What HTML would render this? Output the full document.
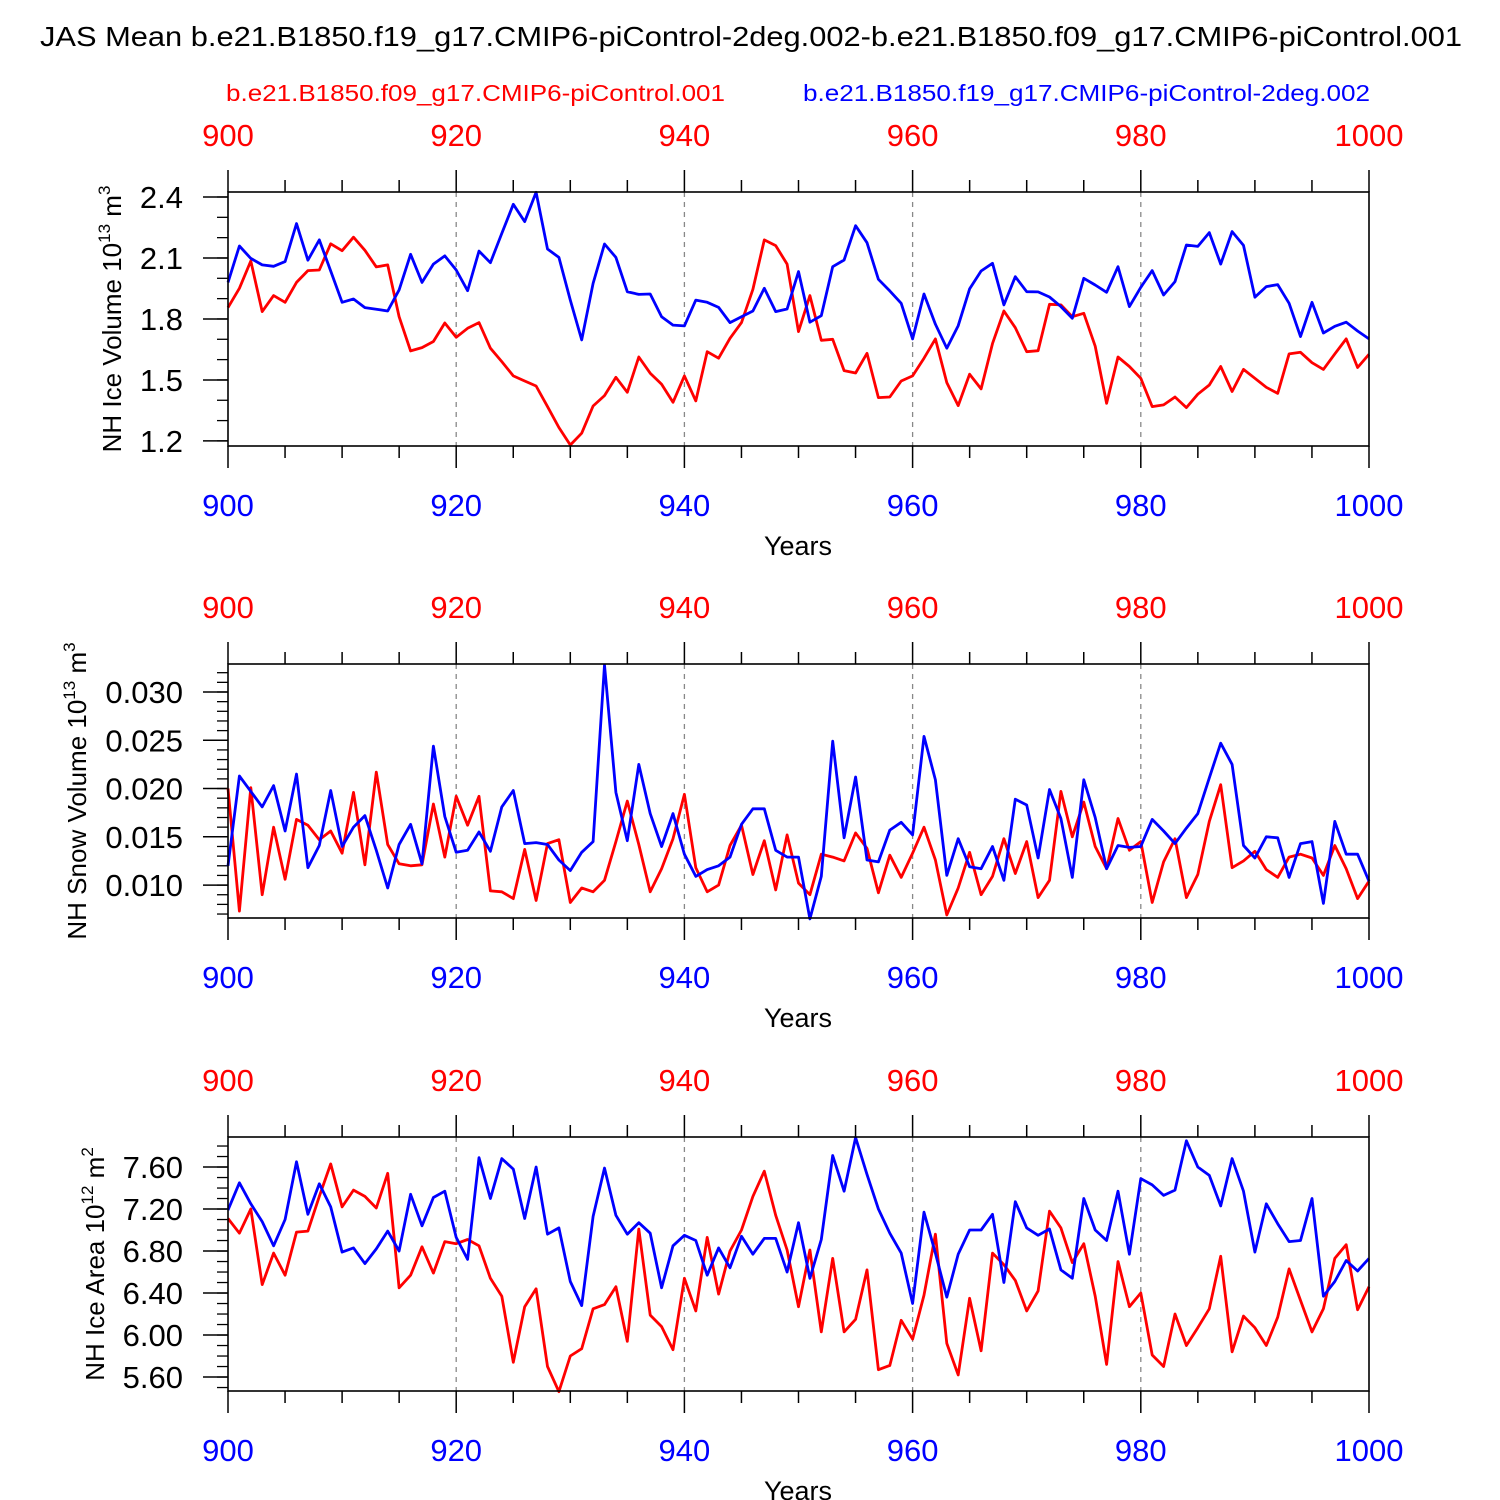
<!DOCTYPE html>
<html><head><meta charset="utf-8"><style>
html,body{margin:0;padding:0;background:#fff}
svg{display:block}
text{font-family:"Liberation Sans",Arial,sans-serif}
</style></head><body>
<svg id="chart" width="1500" height="1500" viewBox="0 0 1500 1500" xmlns="http://www.w3.org/2000/svg">
<text x="40" y="46" font-size="28" textLength="1422" lengthAdjust="spacingAndGlyphs">JAS Mean b.e21.B1850.f19_g17.CMIP6-piControl-2deg.002-b.e21.B1850.f09_g17.CMIP6-piControl.001</text>
<text x="226" y="101" font-size="23" fill="#f00" textLength="499" lengthAdjust="spacingAndGlyphs">b.e21.B1850.f09_g17.CMIP6-piControl.001</text>
<text x="803" y="101" font-size="23" fill="#00f" textLength="567" lengthAdjust="spacingAndGlyphs">b.e21.B1850.f19_g17.CMIP6-piControl-2deg.002</text>
</svg>
<script>
const years = [];
for (let y = 900; y <= 1000; y++) years.push(y);
const xTickLabels = ["900","920","940","960","980","1000"];

const iceVolRed = [1.856,1.951,2.085,1.836,1.915,1.882,1.980,2.038,2.041,2.170,2.136,2.202,2.138,2.056,2.066,1.811,1.643,1.659,1.689,1.780,1.710,1.754,1.782,1.656,1.590,1.520,1.495,1.470,1.369,1.266,1.180,1.238,1.372,1.423,1.513,1.439,1.613,1.533,1.479,1.390,1.520,1.397,1.639,1.607,1.705,1.782,1.946,2.189,2.161,2.070,1.738,
1.915,1.695,1.700,1.546,1.534,1.631,1.413,1.416,1.495,1.520,1.607,1.702,1.487,1.374,1.528,1.456,1.679,1.839,1.757,1.639,1.644,1.872,1.869,1.811,1.828,1.666,1.385,1.613,1.566,1.508,1.369,1.377,1.416,1.364,1.430,1.475,1.566,1.443,1.552,1.508,1.464,1.434,1.628,1.636,1.585,1.552,1.628,1.702,1.561,1.626];
const iceVolBlue = [1.980,2.159,2.098,2.066,2.059,2.082,2.269,2.089,2.189,2.036,1.882,1.898,1.856,1.848,1.839,1.943,2.118,1.980,2.070,2.110,2.041,1.939,2.134,2.077,2.221,2.364,2.279,2.423,2.144,2.103,1.893,1.697,1.975,2.169,2.103,1.934,1.921,1.923,1.811,1.770,1.766,1.893,1.882,1.857,1.782,1.811,1.839,1.951,1.836,1.849,2.033,
1.784,1.816,2.057,2.090,2.259,2.175,1.995,1.938,1.877,1.702,1.923,1.774,1.656,1.767,1.948,2.036,2.074,1.869,2.008,1.934,1.933,1.908,1.861,1.803,2.000,1.967,1.931,2.057,1.861,1.956,2.038,1.918,1.984,2.164,2.157,2.225,2.070,2.230,2.162,1.907,1.959,1.969,1.877,1.713,1.882,1.731,1.764,1.784,1.741,1.702];

const snowRed = [0.0200,0.0073,0.0201,0.0090,0.0160,0.0106,0.0168,0.0162,0.0147,0.0156,0.0133,0.0196,0.0121,0.0217,0.0142,0.0122,0.0120,0.0121,0.0184,0.0129,0.0192,0.0162,0.0192,0.0094,0.0093,0.0086,0.0137,0.0084,0.0143,0.0147,0.0082,0.0097,0.0093,0.0105,0.0145,0.0187,0.0142,0.0093,0.0117,0.0148,0.0194,0.0118,0.0093,0.0100,0.0141,0.0162,0.0111,0.0146,0.0095,0.0152,0.0102,
0.0090,0.0132,0.0129,0.0125,0.0154,0.0138,0.0092,0.0131,0.0108,0.0133,0.0160,0.0126,0.0069,0.0097,0.0134,0.0090,0.0109,0.0148,0.0112,0.0145,0.0087,0.0105,0.0197,0.0150,0.0186,0.0140,0.0117,0.0169,0.0136,0.0145,0.0082,0.0124,0.0148,0.0087,0.0111,0.0166,0.0204,0.0118,0.0125,0.0135,0.0116,0.0108,0.0129,0.0132,0.0128,0.0110,0.0141,0.0117,0.0086,0.0104];
const snowBlue = [0.0120,0.0213,0.0197,0.0181,0.0203,0.0156,0.0215,0.0118,0.0141,0.0198,0.0140,0.0160,0.0172,0.0136,0.0097,0.0142,0.0163,0.0122,0.0244,0.0171,0.0134,0.0136,0.0155,0.0135,0.0181,0.0198,0.0143,0.0144,0.0142,0.0126,0.0115,0.0134,0.0145,0.0328,0.0196,0.0146,0.0225,0.0174,0.0140,0.0174,0.0132,0.0109,0.0116,0.0120,0.0129,0.0163,0.0179,0.0179,0.0136,0.0129,0.0129,
0.0065,0.0109,0.0249,0.0149,0.0212,0.0126,0.0124,0.0157,0.0165,0.0152,0.0254,0.0209,0.0110,0.0148,0.0119,0.0117,0.0140,0.0105,0.0189,0.0183,0.0128,0.0199,0.0169,0.0108,0.0209,0.0170,0.0117,0.0141,0.0139,0.0140,0.0168,0.0156,0.0143,0.0159,0.0174,0.0211,0.0247,0.0225,0.0141,0.0128,0.0150,0.0149,0.0108,0.0143,0.0145,0.0081,0.0166,0.0132,0.0132,0.0104];

const areaRed = [7.11,6.97,7.20,6.48,6.78,6.57,6.98,6.99,7.32,7.63,7.22,7.38,7.32,7.21,7.54,6.45,6.57,6.84,6.59,6.89,6.87,6.91,6.85,6.54,6.37,5.74,6.27,6.44,5.70,5.46,5.80,5.87,6.25,6.29,6.46,5.94,7.01,6.19,6.08,5.86,6.54,6.23,6.93,6.39,6.80,7.00,7.32,7.56,7.14,6.81,6.27,
6.81,6.03,6.73,6.03,6.15,6.62,5.67,5.71,6.14,5.96,6.38,6.96,5.92,5.62,6.35,5.85,6.78,6.67,6.52,6.23,6.42,7.18,7.02,6.69,6.87,6.37,5.72,6.70,6.27,6.40,5.81,5.70,6.20,5.90,6.07,6.25,6.75,5.84,6.18,6.07,5.90,6.17,6.63,6.33,6.03,6.25,6.73,6.86,6.24,6.46];
const areaBlue = [7.19,7.45,7.25,7.08,6.85,7.10,7.65,7.15,7.44,7.22,6.79,6.83,6.68,6.82,6.99,6.80,7.34,7.04,7.31,7.37,6.93,6.72,7.69,7.30,7.68,7.58,7.11,7.60,6.96,7.02,6.51,6.28,7.13,7.59,7.14,6.96,7.07,6.97,6.45,6.85,6.95,6.90,6.57,6.83,6.64,6.94,6.77,6.92,6.92,6.60,7.07,
6.54,6.91,7.71,7.37,7.88,7.53,7.20,6.97,6.78,6.30,7.17,6.78,6.36,6.77,7.00,7.00,7.15,6.50,7.27,7.02,6.95,7.01,6.62,6.54,7.30,7.00,6.90,7.37,6.77,7.49,7.43,7.33,7.38,7.85,7.60,7.52,7.23,7.68,7.37,6.79,7.25,7.06,6.89,6.90,7.30,6.37,6.51,6.71,6.61,6.73];

const p1Ticks = [2.4,2.1,1.8,1.5,1.2];
const p1Labels = ["2.4","2.1","1.8","1.5","1.2"];
const p2Ticks = [0.030,0.025,0.020,0.015,0.010];
const p2Labels = ["0.030","0.025","0.020","0.015","0.010"];
const p3Ticks = [7.6,7.2,6.8,6.4,6.0,5.6];
const p3Labels = ["7.60","7.20","6.80","6.40","6.00","5.60"];

const NS = "http://www.w3.org/2000/svg";
const svg = document.getElementById('chart');
const X0 = 228, X1 = 1369;
function xs(yr){ return X0 + (yr-900)/100*(X1-X0); }
function mk(tag, attrs, parent){ const e=document.createElementNS(NS,tag); for(const k in attrs) e.setAttribute(k,attrs[k]); (parent||svg).appendChild(e); return e; }

const panels = [
 {top:192, ymin:1.175, ymax:2.4246, minor:0.1, mmin:1.2, mmax:2.4, ticks:p1Ticks, labels:p1Labels, red:iceVolRed, blue:iceVolBlue, title:["NH Ice Volume 10","13"," m","3"], tx:121, name:"ice-volume"},
 {top:664, ymin:0.00659, ymax:0.0329, minor:0.001, mmin:0.007, mmax:0.032, ticks:p2Ticks, labels:p2Labels, red:snowRed, blue:snowBlue, title:["NH Snow Volume 10","13"," m","3"], tx:86, name:"snow-volume"},
 {top:1137, ymin:5.467, ymax:7.886, minor:0.1, mmin:5.5, mmax:7.8, ticks:p3Ticks, labels:p3Labels, red:areaRed, blue:areaBlue, title:["NH Ice Area 10","12"," m","2"], tx:104, name:"ice-area"}
];

panels.forEach((p,pi)=>{
  const T=p.top, B=p.top+254;
  const g = mk('g',{});
  
  
  const ys = v => B - (v-p.ymin)/(p.ymax-p.ymin)*(B-T);
  [920,940,960,980].forEach(yr=>{
    const l=mk('line',{x1:xs(yr),x2:xs(yr),y1:T,y2:B,stroke:'#888','stroke-width':1.3,'stroke-dasharray':'5,5'},g);
    
    
  });
  for(let yr=900; yr<=1000; yr+=5){
    const major = yr%20===0, len = major?22:12;
    mk('line',{x1:xs(yr),x2:xs(yr),y1:T,y2:T-len,stroke:'#000','stroke-width':1.5},g);
    mk('line',{x1:xs(yr),x2:xs(yr),y1:B,y2:B+len,stroke:'#000','stroke-width':1.5},g);
  }
  xTickLabels.forEach((lab,i)=>{
    const yr=900+i*20;
    const t1=mk('text',{x:xs(yr),y:T-46,'font-size':31,'text-anchor':'middle',fill:'#f00'},g); t1.textContent=lab;
    
    
    const t2=mk('text',{x:xs(yr),y:B+70,'font-size':31,'text-anchor':'middle',fill:'#00f'},g); t2.textContent=lab;
    
    
  });
  const xt=mk('text',{x:798,y:B+109,'font-size':27,'text-anchor':'middle'},g); xt.textContent='Years';
  
  
  for(let v=p.mmin; v<=p.mmax+1e-9; v+=p.minor){
    mk('line',{x1:X0,x2:X0-11,y1:ys(v),y2:ys(v),stroke:'#000','stroke-width':1.3},g);
  }
  p.ticks.forEach((v,i)=>{
    mk('line',{x1:X0,x2:X0-25,y1:ys(v),y2:ys(v),stroke:'#000','stroke-width':1.5},g);
    const t=mk('text',{x:183,y:ys(v)+11,'font-size':31,'text-anchor':'end'},g); t.textContent=p.labels[i];
    
    
  });
  const yt=mk('text',{x:0,y:0,'font-size':26,'text-anchor':'middle',transform:`translate(${p.tx},${T+127}) rotate(-90)`},g);
  
  
  const s0=mk('tspan',{},yt); s0.textContent=p.title[0];
  const s1=mk('tspan',{dy:-11,'font-size':17},yt); s1.textContent=p.title[1];
  const s2=mk('tspan',{dy:11},yt); s2.textContent=p.title[2];
  const s3=mk('tspan',{dy:-11,'font-size':17},yt); s3.textContent=p.title[3];
  [['red',p.red,'#f00'],['blue',p.blue,'#00f']].forEach(([nm,arr,col])=>{
    const d=arr.map((v,i)=>(i?'L':'M')+xs(years[i]).toFixed(1)+','+ys(v).toFixed(1)).join(' ');
    const path=mk('path',{d:d,fill:'none',stroke:col,'stroke-width':2.8,'stroke-linejoin':'round'},g);
    
    
  });
  const box=mk('rect',{x:X0,y:T,width:X1-X0,height:B-T,fill:'none',stroke:'#000','stroke-width':1.6},g);
  
  
});
</script>
</body></html>
